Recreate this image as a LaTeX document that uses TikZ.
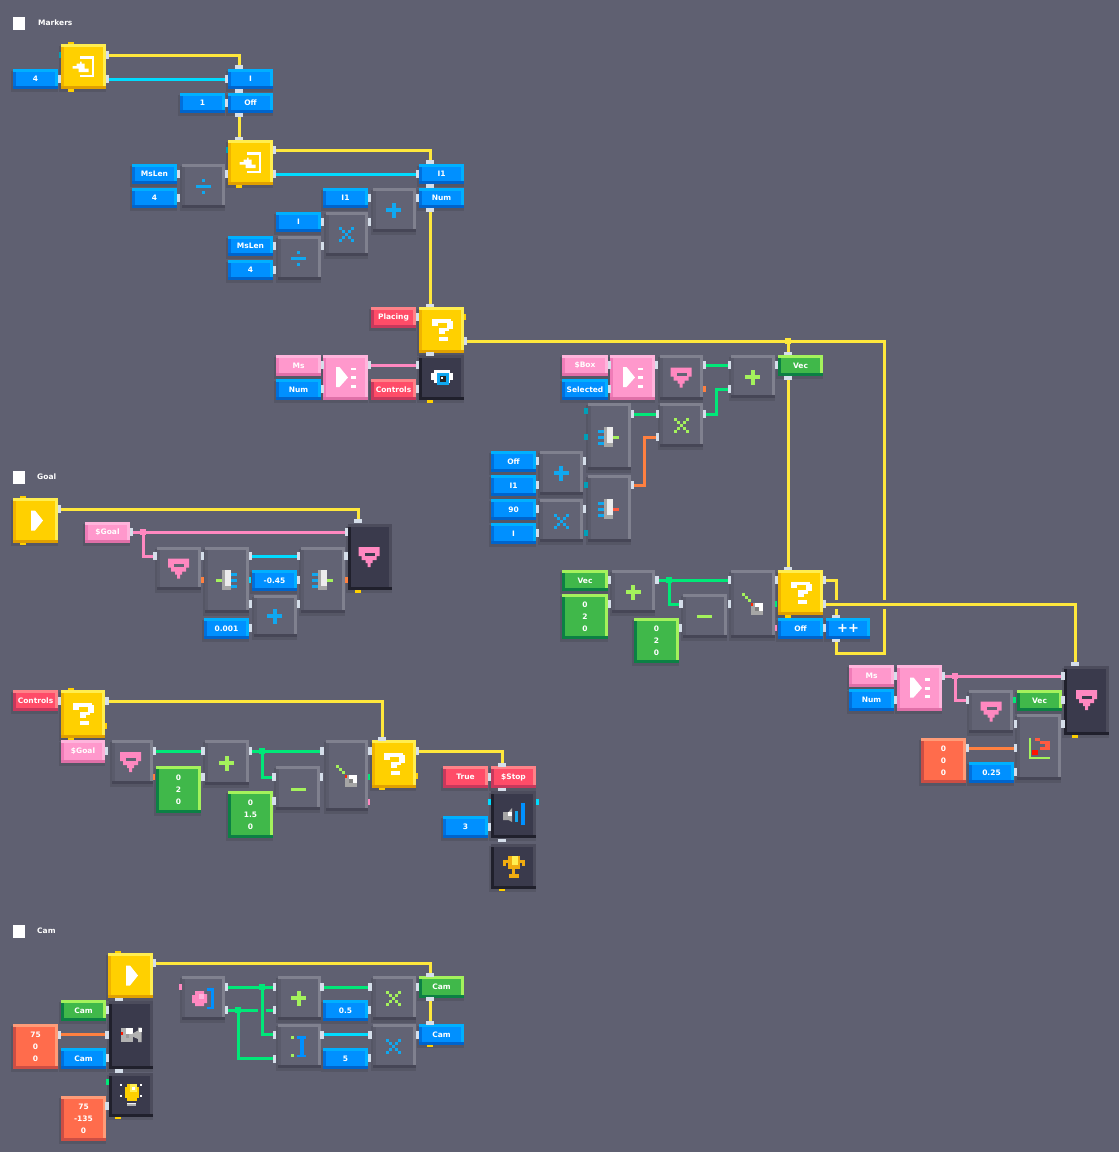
\documentclass[tikz,border=0pt]{standalone}
\usepackage{fontspec}
\setmainfont{DejaVu Sans}
\definecolor{bgc}{HTML}{5F6071}
\definecolor{shc}{HTML}{555665}
\definecolor{portc}{HTML}{D5DEEA}
\definecolor{blueM}{HTML}{0090FF}\definecolor{blueH}{HTML}{00B0FF}\definecolor{blueD}{HTML}{0064CC}\definecolor{blueL}{HTML}{0070DD}
\definecolor{yelM}{HTML}{FFD000}\definecolor{yelH}{HTML}{FFEE50}\definecolor{yelD}{HTML}{E0A000}\definecolor{yelL}{HTML}{F0B400}
\definecolor{grnM}{HTML}{40B84A}\definecolor{grnH}{HTML}{A4F25C}\definecolor{grnD}{HTML}{0C8044}\definecolor{grnL}{HTML}{0C8044}
\definecolor{pnkM}{HTML}{FF98CC}\definecolor{pnkH}{HTML}{FFB4DC}\definecolor{pnkD}{HTML}{E070A8}\definecolor{pnkL}{HTML}{F07CB8}
\definecolor{redM}{HTML}{FF4C68}\definecolor{redH}{HTML}{FF8288}\definecolor{redD}{HTML}{C8385C}\definecolor{redL}{HTML}{C8385C}
\definecolor{orgM}{HTML}{FF6C4C}\definecolor{orgH}{HTML}{FF9C78}\definecolor{orgD}{HTML}{CC4E44}\definecolor{orgL}{HTML}{CC4E44}
\definecolor{gryM}{HTML}{626374}\definecolor{gryH}{HTML}{80818F}\definecolor{gryD}{HTML}{464656}\definecolor{gryL}{HTML}{5A5B6B}
\definecolor{drkM}{HTML}{3A3A4C}\definecolor{drkH}{HTML}{4C4C5C}\definecolor{drkD}{HTML}{20202C}\definecolor{drkL}{HTML}{20202C}
\definecolor{wy}{HTML}{FFE83C}\definecolor{wc}{HTML}{00DCFF}\definecolor{wg}{HTML}{00E878}\definecolor{wp}{HTML}{FF88C0}\definecolor{wo}{HTML}{FF8040}
\definecolor{icb}{HTML}{10A8F0}\definecolor{icl}{HTML}{A4F25C}\definecolor{icp}{HTML}{FF88C0}\definecolor{icr}{HTML}{FF5A40}
\definecolor{teal}{HTML}{00A0B8}
\pgfdeclarelayer{shadowl}\pgfdeclarelayer{wirel}
\pgfsetlayers{shadowl,wirel,main}
\tikzset{
 lbl/.style={text=white,font=\fontsize{7.5}{12}\selectfont\bfseries,align=center,inner sep=0pt},
 hportn/.style={fill=portc,minimum width=3.5pt,minimum height=8pt,inner sep=0pt},
 vportn/.style={fill=portc,minimum width=8pt,minimum height=3.5pt,inner sep=0pt},
 jct/.style={minimum width=6pt,minimum height=6pt,inner sep=0pt},
 wire/.style={line width=3pt},
 wY/.style={wire,draw=wy},wC/.style={wire,draw=wc},wG/.style={wire,draw=wg},wP/.style={wire,draw=wp},wO/.style={wire,draw=wo},
}
% name x1 y1 x2 y2 colour text
\newcommand\myblk[7]{%
 \begin{pgfonlayer}{shadowl}\fill[shc] ({#2-2},{#3+2}) rectangle ({#4},{#5+2.5});\end{pgfonlayer}
 \node[lbl,fill=#6M,anchor=north west,minimum width={(#4-#2)*1pt},minimum height={(#5-#3)*1pt}] (#1) at (#2,#3) {};
 \fill[#6L] (#2,#3) rectangle ({#2+3},#5);
 \fill[#6H] (#2,#3) rectangle (#4,{#3+3});
 \fill[#6H] ({#4-3},#3) rectangle (#4,#5);
 \fill[#6D] (#2,{#5-3}) rectangle (#4,#5);
 \node[lbl] (#1t) at ({(#2+#4)/2},{(#3+#5)/2}) {#7};
}
\newcommand\hport[3]{\node[hportn] (#1) at (#2,#3) {};}
\newcommand\vport[3]{\node[vportn] (#1) at (#2,#3) {};}
\newcommand\stubh[3]{\begin{pgfonlayer}{wirel}\fill[#3] ({#1-1.8},{#2-2.8}) rectangle ({#1+1.8},{#2+2.8});\end{pgfonlayer}}
\newcommand\stubv[3]{\begin{pgfonlayer}{wirel}\fill[#3] ({#1-2.8},{#2-1.8}) rectangle ({#1+2.8},{#2+1.8});\end{pgfonlayer}}
\newcommand\rr[5]{\fill[#1] (#2,#3) rectangle (#4,#5);}
\newcommand\wired[1]{\begin{pgfonlayer}{wirel}#1\end{pgfonlayer}}
% icons
\newcommand\icplus[3]{\begin{scope}[shift={(#1,#2)}]\rr{#3}{-7.5}{-2}{7.5}{2}\rr{#3}{-2}{-7.5}{2}{7.5}\end{scope}}
\newcommand\ictimes[3]{\begin{scope}[shift={(#1,#2)}]\foreach\a/\b in {-6/-6,-6/6,6/-6,6/6,-3/-3,-3/3,3/-3,3/3,0/0}{\fill[#3] ({\a-1.5},{\b-1.5}) rectangle ({\a+1.5},{\b+1.5});}\end{scope}}
\newcommand\icdiv[3]{\begin{scope}[shift={(#1,#2)}]\rr{#3}{-7.5}{-1.5}{7.5}{1.5}\rr{#3}{-1.5}{-7.5}{1.5}{-4.5}\rr{#3}{-1.5}{4.5}{1.5}{7.5}\end{scope}}
\newcommand\icminus[3]{\begin{scope}[shift={(#1,#2)}]\rr{#3}{-7.5}{-1.5}{7.5}{1.5}\end{scope}}
\newcommand\icenter[2]{\begin{scope}[shift={(#1,#2)}]
 \rr{white}{-3.5}{-10.5}{10.5}{-8}\rr{white}{8}{-10.5}{10.5}{10.5}\rr{white}{-3.5}{8}{10.5}{10.5}
 \fill[white] (-3.5,-5) -- (-2,-5) -- (-2,-3) -- (1,-3) -- (1,2) -- (5,2) -- (5,5.5) -- (-5,5.5) -- (-5,2) -- (-11,2) -- (-11,-0.5) -- (-7,-0.5) -- (-7,-3) -- (-3.5,-3) -- cycle;
\end{scope}}
\newcommand\icq[2]{\begin{scope}[shift={(#1,#2)}]
 \rr{white}{-10}{-11}{9}{-7.5}\rr{white}{-10}{-8}{-4}{-4.5}\rr{white}{5}{-9}{11}{-1.5}\rr{white}{-3}{-2.5}{7}{1}\rr{white}{-3}{1}{3}{4}\rr{white}{-3}{7}{6}{11}
\end{scope}}
\newcommand\icplay[2]{\begin{scope}[shift={(#1,#2)}]\fill[white] (-4.5,-10) -- (-0.5,-10) -- (7.5,0) -- (-0.5,10) -- (-4.5,10) -- cycle;\end{scope}}
\newcommand\iclist[2]{\begin{scope}[shift={(#1,#2)}]\fill[white] (-9.5,-10.5) -- (-6,-10.5) -- (2.5,0) -- (-6,9.5) -- (-9.5,9.5) -- cycle;
 \rr{white}{5.5}{-10}{10.5}{-7.5}\rr{white}{5.5}{-1.5}{10.5}{1.5}\rr{white}{5.5}{7}{10.5}{10}\end{scope}}
\newcommand\icgem[3]{\begin{scope}[shift={(#1,#2)}]\fill[icp] (-11,-10) -- (10,-10) -- (10,-1) -- (7,-1) -- (7,3) -- (3,3) -- (3,6) -- (1,6) -- (1,10) -- (-2,10) -- (-2,6) -- (-4,6) -- (-4,3) -- (-8,3) -- (-8,-1) -- (-11,-1) -- cycle;
 \rr{#3}{-5}{-4.5}{5}{-1.5}\end{scope}}
\newcommand\icsplit[3]{\begin{scope}[shift={(#1,#2)}]
 \rr{icb}{-11}{-7}{-5}{-4}\rr{icb}{-11}{-1.5}{-5}{1.5}\rr{icb}{-11}{4.5}{-5}{7.5}
 \rr{#3}{4}{-1.5}{10}{1.5}\rr{gray!70}{-5}{-10}{4}{10}\rr{white!85!gray}{-2.5}{-10}{4}{6}\end{scope}}
\newcommand\icmerge[3]{\begin{scope}[shift={(#1,#2)}]
 \rr{icb}{4}{-7}{10}{-4}\rr{icb}{4}{-1.5}{10}{1.5}\rr{icb}{4}{4.5}{10}{7.5}
 \rr{#3}{-11}{-1.5}{-5}{1.5}\rr{gray!70}{-5}{-10}{4}{10}\rr{white!85!gray}{-2.5}{-10}{4}{6}\end{scope}}
\newcommand\iclerp[2]{\begin{scope}[shift={(#1,#2)}]
 \foreach\a in {-11,-8,-5}{\fill[icl] (\a,\a) rectangle ({\a+2.5},{\a+2.5});}
 \rr{gray!70}{-2.5}{-1}{10}{11}\rr{white}{2}{-1}{10}{7}\rr{gray}{2}{3}{6}{7}\rr{red!70!orange}{-2.5}{-1}{0}{1.5}\end{scope}}
\newcommand\icchart[2]{\begin{scope}[shift={(#1,#2)}]
 \rr{icl}{-10}{-9}{-8}{12}\rr{icl}{-10}{10}{11}{12}
 \rr{icr}{-4}{-9}{1}{-6}\rr{icr}{1}{-6}{6}{-3}\rr{icr}{6}{-6}{11}{3}\rr{icr}{1}{0}{11}{3}\rr{red!85!orange}{-7}{3}{-1}{8}\end{scope}}
\newcommand\iceye[2]{\begin{scope}[shift={(#1,#2)}]
 \rr{white}{-10.5}{-7.5}{11}{5}\rr{drkM}{-10.5}{-7.5}{-7.5}{-5}\rr{drkM}{-10.5}{2.5}{-7.5}{5}\rr{drkM}{8}{-7.5}{11}{-5}\rr{drkM}{8}{2.5}{11}{5}\rr{icb}{-4.5}{-4.5}{7.5}{7.5}\rr{black!85}{-1.5}{-1.5}{4.5}{4.5}\rr{white}{-0.5}{-1}{1.5}{1}\end{scope}}
\newcommand\icspk[2]{\begin{scope}[shift={(#1,#2)}]
 \fill[gray!70] (-10.5,-2) -- (-5,-2) -- (-1.5,-6) -- (-1.5,8) -- (-5,6) -- (-10.5,6) -- cycle;\rr{white}{-6}{-2}{-1.5}{2}
 \rr{icb}{1.5}{-3.5}{4.5}{8}\rr{blueM}{7.5}{-11}{11}{11}\end{scope}}
\newcommand\ictrophy[2]{\begin{scope}[shift={(#1,#2)}]
 \definecolor{tg}{HTML}{F0AC10}\rr{tg}{-11}{-7}{11}{-1}\rr{drkM}{-8}{-4}{-6}{-1}\rr{drkM}{6}{-4}{8}{-1}\rr{tg}{-6}{-11}{6}{2}\rr{yelH}{-2}{-11}{4}{-2}\rr{tg}{-1.5}{2}{1.5}{8}\rr{tg}{-5}{7.5}{5}{11}\end{scope}}
\newcommand\iccam[2]{\begin{scope}[shift={(#1,#2)}]
 \rr{gray!60}{-10.5}{-7.5}{1.5}{7}\rr{white}{-5}{-7.5}{1.5}{-1}\rr{red!80!orange}{-10.5}{-3}{-8}{0}\rr{gray!80}{-5}{-1}{-2}{3}
 \fill[gray!60] (1.5,-1.5) -- (7,-4.5) -- (7,-7.5) -- (10.5,-7.5) -- (10.5,7) -- (7,7) -- (7,4) -- (1.5,1.5) -- cycle;\rr{white}{8}{-7.5}{10.5}{-3}\end{scope}}
\newcommand\icbulb[2]{\begin{scope}[shift={(#1,#2)}]
 \foreach\a/\b in {-10/-10,10/-10,-10/1,10/1}{\fill[white] ({\a-1.3},{\b-1.3}) rectangle ({\a+1.3},{\b+1.3});}
 \rr{yelM}{-6}{-8}{8}{3}\rr{yelM}{-4}{-11}{6}{6}\rr{yelH}{-1}{-11}{6}{-3}\rr{white}{1}{-8}{4}{-5}\rr{gray!60}{-4}{7.5}{5}{11}\rr{white!90!gray}{-4}{7.5}{5}{9}\end{scope}}
\newcommand\icball[2]{\begin{scope}[shift={(#1,#2)}]
 \fill[wp] (-11.5,-3) -- (-8.5,-3) -- (-8.5,-7) -- (0.5,-7) -- (0.5,-4) -- (3.5,-4) -- (3.5,5) -- (0.5,5) -- (0.5,8) -- (-8.5,8) -- (-8.5,5) -- (-11.5,5) -- cycle;
 \rr{pnkH}{-4.5}{-4}{0.5}{1}
 \rr{blueM}{3.5}{-10}{10}{-7.5}\rr{blueM}{7.5}{-10}{10}{11}\rr{blueM}{3.5}{8.5}{10}{11}\end{scope}}
\newcommand\icibar[2]{\begin{scope}[shift={(#1,#2)}]
 \rr{blueM}{-2.5}{-10}{6.5}{-7.5}\rr{blueM}{-2.5}{8.5}{6.5}{11}\rr{blueM}{0}{-10}{4}{11}
 \rr{icl}{-8.5}{-10}{-5.5}{-7}\rr{icl}{-8.5}{8}{-5.5}{11}\end{scope}}
\begin{document}
\begin{tikzpicture}[x=1pt,y=-1pt]
\path[use as bounding box] (0,0) rectangle (1119,1152);
\begin{pgfonlayer}{shadowl}\fill[bgc] (0,0) rectangle (1119,1152);\end{pgfonlayer}
% ---- section labels
\node[fill=white,minimum width=12pt,minimum height=13pt,inner sep=0pt,anchor=north west] (chkA) at (13,17) {};
\node[lbl,anchor=west] (secA) at (38,23) {Markers};
\node[fill=white,minimum width=12pt,minimum height=13pt,inner sep=0pt,anchor=north west] (chkB) at (13,471) {};
\node[lbl,anchor=west] (secB) at (37,477) {Goal};
\node[fill=white,minimum width=12pt,minimum height=13pt,inner sep=0pt,anchor=north west] (chkC) at (13,925) {};
\node[lbl,anchor=west] (secC) at (37,931) {Cam};
% ---- Markers
\myblk{yA}{61}{44}{106}{89}{yel}{}\icenter{83.5}{66.5}
\myblk{l4a}{13}{69}{58}{89}{blue}{4}
\myblk{bI}{228}{69}{273}{89}{blue}{I}
\myblk{bOff}{228}{93}{273}{113}{blue}{Off}
\myblk{l1}{180}{93}{225}{113}{blue}{1}
\myblk{yB}{228}{140}{273}{185}{yel}{}\icenter{250.5}{162.5}
\myblk{bMs}{132}{164}{177}{184}{blue}{MsLen}
\myblk{l4b}{132}{188}{177}{208}{blue}{4}
\myblk{gDiv}{182}{164}{225}{208}{gry}{}\icdiv{203}{186}{icb}
\myblk{bIa}{419}{164}{464}{184}{blue}{I1}
\myblk{bNum}{419}{188}{464}{208}{blue}{Num}
\myblk{bIb}{323}{188}{368}{208}{blue}{I1}
\myblk{gPl}{373}{188}{416}{232}{gry}{}\icplus{393.5}{210}{icb}
\myblk{bIc}{276}{212}{321}{232}{blue}{I}
\myblk{gX}{326}{212}{368}{256}{gry}{}\ictimes{346}{234}{icb}
\myblk{bMsb}{228}{236}{273}{256}{blue}{MsLen}
\myblk{l4c}{228}{260}{273}{280}{blue}{4}
\myblk{gDivb}{278}{236}{321}{280}{gry}{}\icdiv{298.5}{258}{icb}
\myblk{qA}{419}{307}{464}{353}{yel}{}\icq{441.5}{330}
\myblk{rPl}{371}{307}{416}{328}{red}{Placing}
\myblk{pMs}{276}{355}{321}{376}{pnk}{Ms}
\myblk{bNumb}{276}{379}{321}{400}{blue}{Num}
\myblk{pLs}{323}{355}{368}{400}{pnk}{}\iclist{345.5}{377.5}
\myblk{dEye}{419}{355}{464}{400}{drk}{}\iceye{441.5}{377.5}
\myblk{rCt}{371}{379}{416}{400}{red}{Controls}
% ports
\hport{a1}{107.5}{55}\hport{a2}{107.5}{79}\hport{a3}{59.5}{79}
\stubh{60.5}{55}{teal}\stubv{71}{43.5}{yelM}\stubv{71}{90}{yelM}
\vport{b1}{239}{67}\hport{b2}{226.5}{79}\vport{b3}{239}{91}\hport{b4}{226.5}{103}\vport{b5}{239}{115}
\vport{c1}{239}{138.5}\hport{c2}{274.5}{150}\hport{c3}{274.5}{174}\hport{c4}{226.5}{174}
\stubh{227.5}{150}{teal}\stubv{239}{186}{yelM}
\hport{d1}{178.5}{174}\hport{d2}{178.5}{198}
\vport{e1}{430}{162}\hport{e2}{417.5}{174}\vport{e3}{430}{186}\hport{e4}{417.5}{198}\vport{e5}{430}{210}
\hport{f1}{369.5}{198}\hport{f2}{369.5}{222}\hport{f3}{322.5}{222}\hport{f4}{322.5}{246}\hport{f5}{274.5}{246}\hport{f6}{274.5}{270}
\vport{g1}{430}{305.5}\hport{g2}{417.5}{317}\hport{g3}{465.5}{341}\vport{g4}{430}{354}
\stubh{464.5}{317}{yelM}\stubv{430}{401}{yelM}
\hport{h1}{322.5}{365}\hport{h2}{322.5}{389}\hport{h3}{369.5}{365}\hport{h4}{417.5}{365}\hport{h5}{417.5}{389}
\wired{
\draw[wY] (a1.center) -| (b1.center);
\draw[wC] (a2.center) -- (b2.center);
\draw[wY] (b5.center) -- (c1.center);
\draw[wY] (c2.center) -| (e1.center);
\draw[wC] (c3.center) -- (e2.center);
\draw[wY] (e5.center) -- (g1.center);
\draw[wP] (h3.center) -- (h4.center);
}
% ---- Right upper
\myblk{pBox}{562}{355}{608}{376}{pnk}{\$Box}
\myblk{bSel}{562}{379}{608}{400}{blue}{Selected}
\myblk{pLsb}{610}{355}{655}{400}{pnk}{}\iclist{632.5}{377.5}
\myblk{gGem}{660}{355}{703}{400}{gry}{}\icgem{681.5}{377.5}{gryM}
\myblk{gPlb}{731}{355}{775}{398}{gry}{}\icplus{752.5}{377}{icl}
\myblk{gVec}{778}{355}{823}{376}{grn}{Vec}
\myblk{tSpa}{588}{403}{631}{470}{gry}{}\icsplit{609}{437}{icl}
\myblk{gXb}{660}{403}{703}{447}{gry}{}\ictimes{681}{425}{icl}
\myblk{bOffb}{491}{451}{536}{472}{blue}{Off}
\myblk{bIcc}{491}{475}{536}{496}{blue}{I1}
\myblk{l90}{491}{499}{536}{520}{blue}{90}
\myblk{bId}{491}{523}{536}{544}{blue}{I}
\myblk{gPlc}{540}{451}{583}{495}{gry}{}\icplus{561}{473}{icb}
\myblk{gXc}{540}{499}{583}{542}{gry}{}\ictimes{561}{521}{icb}
\myblk{tSpb}{588}{475}{631}{542}{gry}{}\icsplit{609}{509}{icr}
\myblk{gVecb}{562}{570}{608}{591}{grn}{Vec}
\myblk{g020}{562}{594}{608}{639}{grn}{0\\2\\0}
\myblk{gPld}{612}{570}{655}{613}{gry}{}\icplus{633}{592}{icl}
\myblk{gMin}{683}{594}{727}{638}{gry}{}\icminus{704.5}{616}{icl}
\myblk{g020b}{634}{618}{679}{663}{grn}{0\\2\\0}
\myblk{gLerp}{731}{570}{775}{638}{gry}{}\iclerp{753}{604}
\myblk{qB}{778}{570}{823}{615}{yel}{}\icq{800.5}{592.5}
\myblk{bOffc}{778}{618}{823}{639}{blue}{Off}
\myblk{bInc}{826}{618}{870}{639}{blue}{\fontsize{13}{13}\selectfont ++}
\node[jct,fill=wy] (jA) at (788,341) {};
\hport{i1}{609.5}{365}\hport{i2}{609.5}{389}\hport{i3}{656.5}{365}\hport{i4}{704.5}{365}\stubh{704}{389}{wo}
\hport{i5}{729.5}{365}\hport{i6}{729.5}{389}\hport{i7}{776.5}{365}
\vport{i8}{788}{353.5}\vport{i9}{788}{378}
\hport{j1}{632.5}{414}\hport{j2}{632.5}{485}\hport{j3}{657.5}{414}\hport{j4}{657.5}{437}\hport{j5}{704.5}{414}
\stubh{586}{411}{teal}\stubh{586}{437}{teal}\stubh{586}{485}{teal}\stubh{586}{533}{teal}
\hport{k1}{537.5}{461}\hport{k2}{537.5}{485}\hport{k3}{537.5}{509}\hport{k4}{537.5}{533}\hport{k5}{584.5}{461}\hport{k6}{584.5}{509}
\hport{m1}{609.5}{580}\hport{m2}{609.5}{604}\hport{m3}{657}{580}\hport{m4}{729.5}{580}\hport{m5}{681}{604}\hport{m6}{729.5}{604}\hport{m7}{680.5}{628}
\hport{m8}{776.5}{580}\stubh{775.5}{604}{wg}\stubh{775.5}{628}{wp}
\vport{n1}{788}{568.5}\hport{n2}{824.5}{580}\hport{n3}{824.5}{604}\stubv{788}{616.5}{yelM}
\hport{n4}{824.5}{628}\vport{n5}{836}{616.5}\vport{n6}{836}{640.5}
\node[jct,fill=wg] (jB) at (669,580) {};
\coordinate (bA) at (884,653);
\coordinate (bB) at (716,414);
\coordinate (bC) at (644,485);
\wired{
\draw[wY] (g3.center) -| (bA) -| (n6.center);
\draw[wY] (jA.center) -- (i8.center);
\draw[wY] (i9.center) -- (n1.center);
\draw[wY] (n2.center) -| (n5.center);
\fill[bgc] (830,600) rectangle (842,608.5);
\fill[bgc] (878,600) rectangle (890,608.5);
\draw[wG] (i4.center) -- (i5.center);
\draw[wG] (j5.center) -- (bB) |- (i6.center);
\draw[wG] (j1.center) -- (j3.center);
\draw[wO] (j2.center) -- (bC) |- (j4.center);
\draw[wG] (m3.center) -- (m4.center);
\draw[wG] (jB.center) |- (m5.center);
}
% ---- Right lower
\myblk{pMsb}{849}{665}{894}{687}{pnk}{Ms}
\myblk{bNumc}{849}{689}{894}{711}{blue}{Num}
\myblk{pLsc}{897}{665}{942}{711}{pnk}{}\iclist{919.5}{688}
\myblk{gGemb}{969}{690}{1013}{733}{gry}{}\icgem{991.5}{711.5}{gryM}
\myblk{gVecc}{1017}{690}{1062}{711}{grn}{Vec}
\myblk{dGem}{1064}{666}{1109}{735}{drk}{}\icgem{1087}{700}{drkM}
\myblk{gCh}{1017}{714}{1061}{780}{gry}{}\icchart{1039}{747}
\myblk{oZ}{921}{738}{966}{783}{org}{0\\0\\0}
\myblk{l025}{969}{762}{1014}{783}{blue}{0.25}
\vport{t1}{1075}{664}\hport{t2}{1063}{676}\hport{t3}{1063}{700}\hport{t4}{1063}{724}\stubv{1075}{736.5}{yelM}
\hport{t5}{895.5}{676}\hport{t6}{895.5}{700}\hport{t7}{943.5}{676}\hport{t8}{967.5}{700}\hport{t9}{1015.5}{724}\stubh{1014.5}{700}{wg}
\hport{u1}{967.5}{748}\hport{u2}{1015.5}{748}\hport{u3}{1015.5}{772}
\node[jct,fill=wp] (jC) at (955,676) {};
\wired{
\draw[wY] (n3.center) -| (t1.center);
\draw[wP] (t7.center) -- (t2.center);
\draw[wP] (jC.center) |- (t8.center);
\draw[wO] (u1.center) -- (u2.center);
}
% ---- Goal
\myblk{yC}{13}{498}{58}{543}{yel}{}\icplay{35.5}{520.5}
\myblk{pGoal}{85}{522}{130}{543}{pnk}{\$Goal}
\myblk{gGemc}{157}{547}{201}{590}{gry}{}\icgem{179}{568.5}{gryM}
\myblk{tMa}{205}{547}{249}{613}{gry}{}\icmerge{227}{580}{icl}
\myblk{lN}{252}{570}{297}{591}{blue}{-0.45}
\myblk{gPle}{254}{595}{297}{637}{gry}{}\icplus{274.5}{616}{icb}
\myblk{l001}{204}{618}{249}{639}{blue}{0.001}
\myblk{tSpc}{301}{547}{345}{613}{gry}{}\icsplit{323}{580}{icl}
\myblk{dGemb}{348}{524}{392}{590}{drk}{}\icgem{369.5}{557}{drkM}
\hport{v1}{59.5}{509}\stubv{23}{497.5}{yelM}\stubv{23}{543.5}{yelM}
\hport{v2}{131.5}{532}\hport{v3}{155}{556}\hport{v4}{346.5}{532}\vport{v5}{358}{521}
\hport{v6}{202.5}{556}\stubh{202}{580}{wo}\hport{v7}{250.5}{556}\hport{v8}{250.5}{604}\stubh{249.5}{580}{wc}
\hport{v9}{298.5}{580}\hport{w1}{298.5}{556}\hport{w2}{298.5}{604}\hport{w3}{250.5}{628}\hport{w4}{346}{556}\stubh{346}{580}{wo}\stubv{358}{591}{yelM}
\node[jct,fill=wp] (jD) at (143,532) {};
\wired{
\draw[wY] (v1.center) -| (v5.center);
\draw[wP] (v2.center) -- (v4.center);
\draw[wP] (jD.center) |- (v3.center);
\draw[wC] (v7.center) -- (w1.center);
}
% ---- Controls
\myblk{rCtb}{13}{690}{58}{711}{red}{Controls}
\myblk{qC}{61}{690}{105}{738}{yel}{}\icq{83}{714}
\myblk{pGoalb}{61}{740}{105}{763}{pnk}{\$Goal}
\myblk{gGemd}{112}{740}{153}{784}{gry}{}\icgem{131}{762}{gryM}
\myblk{g020c}{156}{766}{201}{813}{grn}{0\\2\\0}
\myblk{gPlf}{205}{740}{249}{785}{gry}{}\icplus{226.5}{763}{icl}
\myblk{gMinb}{276}{766}{320}{810}{gry}{}\icminus{298}{789}{icl}
\myblk{g015}{228}{791}{273}{838}{grn}{0\\1.5\\0}
\myblk{gLerpb}{326}{740}{368}{811}{gry}{}\iclerp{347}{776}
\myblk{qD}{372}{740}{416}{788}{yel}{}\icq{394}{764}
\myblk{rTrue}{443}{766}{488}{788}{red}{True}
\myblk{rStop}{491}{766}{536}{788}{red}{\$Stop}
\myblk{dSp}{491}{791}{536}{838}{drk}{}\icspk{513.5}{814}
\myblk{l3}{443}{816}{488}{838}{blue}{3}
\myblk{dTr}{491}{844}{536}{889}{drk}{}\ictrophy{513.5}{866.5}
\hport{x1}{59.5}{701}\hport{x2}{107}{701}\stubh{105.5}{726}{yelM}\stubv{71}{689.5}{yelM}\stubv{71}{738.5}{yelM}
\hport{x3}{106.5}{751}\hport{x4}{154.5}{751}\stubh{153.5}{777}{wo}\hport{x5}{203}{751}\hport{x6}{203}{777}\hport{x7}{250.5}{751}
\hport{x8}{322}{751}\hport{x9}{274}{777}\hport{y1}{321.5}{777}\hport{y2}{274}{801}\hport{y3}{370}{751}\stubh{368.5}{777}{wg}\stubh{368.5}{802}{wp}
\vport{y4}{382}{739}\hport{y5}{417.5}{751}\stubh{416.5}{776}{yelM}\stubv{382}{788.5}{yelM}
\vport{y6}{502}{765}\hport{y7}{489.5}{777}\vport{y8}{502}{789.5}\hport{y9}{489.5}{827}
\stubh{490}{802}{wc}\stubh{537}{802}{wc}\vport{z1}{502}{840.5}\stubv{502}{889.5}{yelM}
\node[jct,fill=wg] (jE) at (262,751) {};
\wired{
\draw[wY] (x2.center) -| (y4.center);
\draw[wG] (x4.center) -- (x5.center);
\draw[wG] (x7.center) -- (x8.center);
\draw[wG] (jE.center) |- (x9.center);
\draw[wY] (y5.center) -| (y6.center);
}
% ---- Cam
\myblk{yD}{108}{953}{153}{998}{yel}{}\icplay{130.5}{975.5}
\myblk{gCam}{61}{1000}{106}{1021}{grn}{Cam}
\myblk{dCam}{109}{1001}{153}{1069}{drk}{}\iccam{131}{1035}
\myblk{oA}{13}{1024}{58}{1069}{org}{75\\0\\0}
\myblk{bCam}{61}{1048}{106}{1069}{blue}{Cam}
\myblk{dBulb}{109}{1073}{153}{1117}{drk}{}\icbulb{131}{1095}
\myblk{oB}{61}{1096}{106}{1141}{org}{75\\-135\\0}
\myblk{gBall}{182}{976}{225}{1020}{gry}{}\icball{203.5}{998}
\myblk{gPlg}{278}{976}{321}{1020}{gry}{}\icplus{298.5}{998}{icl}
\myblk{gIb}{278}{1024}{321}{1068}{gry}{}\icibar{299.5}{1046}
\myblk{gXd}{373}{976}{416}{1020}{gry}{}\ictimes{393}{998}{icl}
\myblk{l05}{323}{1000}{368}{1021}{blue}{0.5}
\myblk{l5}{323}{1048}{368}{1069}{blue}{5}
\myblk{gXe}{373}{1024}{416}{1068}{gry}{}\ictimes{393}{1046}{icb}
\myblk{gCamb}{419}{976}{464}{998}{grn}{Cam}
\myblk{bCamb}{419}{1024}{464}{1045}{blue}{Cam}
\hport{q1}{154.5}{963}\stubv{118}{952.5}{yelM}\vport{q2}{118.5}{999.5}\hport{q3}{107.5}{1010}\hport{q4}{59.5}{1034.5}\hport{q5}{107}{1034.5}\hport{q6}{107.5}{1058}
\vport{q7}{118.5}{1071}\stubh{108}{1082}{wg}\hport{q8}{107}{1106}\stubv{118}{1117.5}{yelM}\stubh{180.5}{987}{wp}
\vport{r1}{430}{975}\vport{r2}{430}{999}\vport{r3}{430}{1023}\stubv{430}{1045.5}{yelM}
\hport{s1}{226.5}{987}\hport{s2}{226.5}{1010}\hport{s3}{274.5}{987}\hport{s4}{274.5}{1010}\hport{s5}{274.5}{1034.5}\hport{s6}{274.5}{1058.5}
\hport{s7}{322}{987}\hport{s8}{370}{987}\hport{s9}{417.5}{987}\hport{s10}{369.5}{1010}\hport{s11}{322}{1034.5}\hport{s12}{370}{1034.5}\hport{s13}{369.5}{1058}\hport{s14}{417.5}{1034.5}
\node[jct,fill=wg] (jF) at (262,987) {};
\node[jct,fill=wg] (jG) at (238,1010) {};
\wired{
\draw[wY] (q1.center) -| (r1.center);
\draw[wY] (r2.center) -- (r3.center);
\draw[wO] (q4.center) -- (q5.center);
\draw[wG] (s1.center) -- (s3.center);
\draw[wG] (s2.center) -- (s4.center);
\fill[bgc] (258,1006) rectangle (266,1014);
\draw[wG] (jF.center) |- (s5.center);
\draw[wG] (jG.center) |- (s6.center);
\draw[wG] (s7.center) -- (s8.center);
\draw[wC] (s11.center) -- (s12.center);
}
\end{tikzpicture}
\end{document}
